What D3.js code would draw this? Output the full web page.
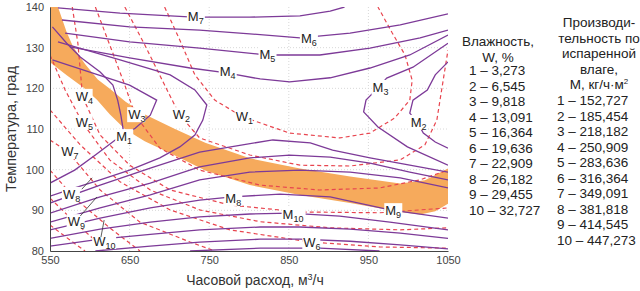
<!DOCTYPE html>
<html>
<head>
<meta charset="utf-8">
<script src="https://cdn.jsdelivr.net/npm/d3@7"></script>
<style>
  body { margin: 0; background: #fff; }
  text { font-family: "Liberation Sans", Arial, sans-serif; }
</style>
</head>
<body>
<svg id="chart" width="640" height="291"></svg>
<script>
// ---------------------------------------------------------------
// Data: contour lines as [flow m3/h, temperature] pairs

const xTicks = [550, 650, 750, 850, 950, 1050];
const yTicks = [80, 90, 100, 110, 120, 130, 140];

// orange band (upper edge then lower edge)
const bandUpper = [[550,140],[560,140],[571,133.8],[579,130.2],[594,126],[610,122.2],[626,119.8],
  [645,116.7],[670,113.5],[707,110],[745,106.6],[801,102.8],[864,100.3],[927,98.3],[990,96.6],
  [1021,97.4],[1050,100.3]];
const bandLower = [[550,126.4],[571,123.2],[592,120.2],[609,117.2],[625,113.6],[644,110],[669,107],
  [707,103.5],[745,99.8],[801,96.2],[864,93.8],[927,91.8],[990,89.6],[1015,89],[1034,89.8],[1050,91.6]];

// productivity contours M (solid purple)
const mLines = [
  // upper family
  [[560,139.8],[638,138.5],[730,137.5],[801,137.5],[864,137.8],[902,139],[920,140]],
  [[565,136.8],[650,135.1],[738,134.3],[801,133.4],[864,132.4],[927,133.6],[990,135.6],[1050,138.3]],
  [[569,133.6],[650,131.4],[738,129.9],[822,128.2],[889,128.2],[952,129.9],[1015,132.4],[1050,134.3]],
  [[575,130.2],[650,127.5],[726,125],[772,123.8],[814,122.3],[851,121.6],[902,122.6],[952,125],[1002,128.2],[1050,133.1]],
  // left family
  [[553,135.1],[571,131.1],[588,127.7],[613,124],[629,120.8],[635,117.1],[639,113.4],[642,109.8]],
  [[553,127],[600,124],[650,120.8],[684,117.1],[676,113.4],[657,110.2],[632,107.3],[607,103.6],[581,99.9],[550,96.7]],
  [[560,131.4],[638,127],[701,123.3],[732,119.6],[747,115.9],[742,112.2],[732,108.5],[713,105.6],[688,102.9],[650,99.9],[613,97.5],[581,95.5],[550,93.5]],
  // lower family
  [[550,91.8],[613,96.2],[676,100.4],[738,104.3],[792,106.1],[830,107.3],[877,106.6],[905,104.8],[952,102.9],[1002,101.1],[1050,99.4]],
  [[550,89.3],[613,93.3],[676,96.7],[738,100.7],[801,102.9],[851,103.6],[902,103.1],[952,101.6],[1002,99.4],[1050,97.5]],
  [[550,87.1],[613,90.6],[676,93.8],[738,97.5],[801,99.4],[864,99.9],[927,99.4],[990,98],[1050,95.5]],
  [[550,85.2],[613,88.1],[676,90.6],[738,92.5],[779,93.3],[839,94],[902,93.3],[977,90.1],[1050,88.1]],
  [[550,83.1],[613,85.4],[676,87.1],[738,88.4],[801,89.1],[851,89.3],[914,88.6],[977,87.1],[1050,85.2]],
  [[550,81.2],[613,82.9],[676,84.1],[738,85.2],[814,85.9],[864,85.9],[927,85.4],[990,84.4],[1050,83.1]],
  [[607,80],[676,81.2],[738,82.2],[814,82.9],[864,82.9],[927,82.4],[990,81.5],[1050,80.5]],
  [[726,80],[814,80.7],[889,80.7],[964,80]],
  // right family
  [[1050,131.1],[1006,125.2],[973,122.5],[962,120.1],[947,117.1],[944,114.2],[962,110.5],[999,105.6],[1050,101.1]],
  [[1050,126.5],[1034,123.3],[1024,119.6],[1006,117.1],[1002,113.9],[1012,111.5],[1019,109],[1034,106.8],[1050,105.3]]
];

// moisture contours W (dashed red)
const wLines = [
  [[694,140],[713,131.9],[732,123.3],[757,117.1],[792,113],[851,109],[914,107.8],[952,109],[983,112.7],[1002,117.1],[1005,122],[996,128.2],[980,133.6],[962,140]],
  [[644,140],[669,130.7],[694,120.8],[713,113.4],[738,107.8],[801,103.6],[864,101.1],[927,100.9],[990,102.4],[1021,106.1],[1036,112.2],[1042,119.6],[1050,129.4]],
  [[607,140],[625,130.7],[644,120.8],[657,113.4],[688,105.3],[738,99.9],[814,96.2],[889,95],[964,95.5],[1015,97.5],[1050,99.9]],
  [[578,140],[585,131.1],[591,117.9],[613,108.5],[650,101.1],[701,95],[776,91.3],[864,89.6],[964,89.4],[1050,90.6]],
  [[550,128.2],[569,119.6],[591,111.5],[625,102.4],[676,95],[738,90.1],[814,87.2],[902,85.7],[990,85.2],[1050,85.7]],
  [[550,114.7],[588,106.1],[638,97],[701,90.1],[776,85.2],[877,82.2],[964,81],[1050,80.7]],
  [[550,107.3],[573,104.3],[613,95],[663,87.1],[726,82.2],[757,80]],
  [[550,99.9],[581,93],[625,85.7],[663,80]],
  [[550,93],[581,87.1],[613,81.5],[619,80]],
  [[550,86.4],[575,82.7],[594,80]]
];

// short leader lines from labels to their contours
const leaders = [
  [[590,95.2],[603,98]],
  [[588,88.6],[609,93.3]],
  [[614,83.4],[618,87.6]]
];

// contour labels: letter, index, flow, temperature
const labels = [
  ["M","7",732,137.5],["M","6",874,132.1],["M","5",822,128.2],["M","4",772,124],
  ["M","3",964,120.1],["M","2",1012,111.5],["M","1",642,108],["M","8",779,92.8],
  ["M","10",851,88.9],["M","9",980,89.8],
  ["W","1",792,112.9],["W","2",713,113.4],["W","3",657,113.4],["W","4",591,117.9],
  ["W","5",591,111.5],["W","6",877,82],["W","7",573,104.3],["W","8",575,93.8],
  ["W","9",581,87.1],["W","10",613,82.2]
];

// legend texts
const wTitle = ["Влажность,", "W, %"];
const wLegend = ["1 – 3,273","2 – 6,545","3 – 9,818","4 – 13,091","5 – 16,364",
  "6 – 19,636","7 – 22,909","8 – 26,182","9 – 29,455","10 – 32,727"];
const mTitle = ["Производи-", "тельность по", "испаренной", "влаге,"];
const mLegend = ["1 – 152,727","2 – 185,454","3 – 218,182","4 – 250,909","5 – 283,636",
  "6 – 316,364","7 – 349,091","8 – 381,818","9 – 414,545","10 – 447,273"];

// ---------------------------------------------------------------
const svg = d3.select("#chart");
const pL = 50, pR = 448, pT = 7, pB = 251;

const x = d3.scaleLinear().domain([550, 1050]).range([pL, pR]);
const y = d3.scaleLinear().domain([80, 140]).range([pB, pT]);

svg.append("clipPath").attr("id", "plotclip")
  .append("rect").attr("x", pL).attr("y", pT)
  .attr("width", pR - pL).attr("height", pB - pT);

// grid
const grid = svg.append("g");
grid.selectAll(".vg").data(xTicks.slice(1, -1)).join("line")
  .attr("x1", d => x(d)).attr("x2", d => x(d))
  .attr("y1", pT).attr("y2", pB)
  .attr("stroke", "#d8d8d8").attr("stroke-dasharray", "1,2");
grid.selectAll(".hg").data(yTicks.slice(1, -1)).join("line")
  .attr("y1", d => y(d)).attr("y2", d => y(d))
  .attr("x1", pL).attr("x2", pR)
  .attr("stroke", "#d8d8d8").attr("stroke-dasharray", "1,2");

const plot = svg.append("g").attr("clip-path", "url(#plotclip)");

const line = d3.line().x(d => x(d[0])).y(d => y(d[1]));

// band
plot.append("path")
  .datum(bandUpper.concat(bandLower.slice().reverse()))
  .attr("d", line)
  .attr("fill", "#f6aa5c");

plot.selectAll(".w").data(wLines).join("path")
  .attr("d", line).attr("fill", "none")
  .attr("stroke", "#e8454f").attr("stroke-width", 1.2)
  .attr("stroke-dasharray", "4,3");

plot.selectAll(".m").data(mLines).join("path")
  .attr("d", line).attr("fill", "none")
  .attr("stroke", "#7d3a98").attr("stroke-width", 1.3);

// contour labels
const lab = svg.append("g").selectAll("g").data(labels).join("g")
  .attr("transform", d => `translate(${x(d[2])},${y(d[3])})`);
lab.append("rect")
  .attr("x", -8).attr("y", -8)
  .attr("width", d => d[1].length > 1 ? 24 : 18).attr("height", 15)
  .attr("fill", "#fff");
const lt = lab.append("text").attr("x", -7).attr("y", 4)
  .attr("font-size", 13).attr("fill", "#222");
lt.append("tspan").text(d => d[0]);
lt.append("tspan").attr("dy", 3).attr("font-size", 9).text(d => d[1]);

svg.append("g").selectAll("path").data(leaders).join("path")
  .attr("d", line).attr("stroke", "#333").attr("stroke-width", 0.8).attr("fill", "none");

// axes
const xAxis = svg.append("g").attr("transform", `translate(0,${pB})`)
  .call(d3.axisBottom(x).tickValues(xTicks).tickFormat(d3.format("d")).tickSize(0).tickPadding(5));
const yAxis = svg.append("g").attr("transform", `translate(${pL},0)`)
  .call(d3.axisLeft(y).tickValues(yTicks).tickFormat(d3.format("d")).tickSize(0).tickPadding(6));
[xAxis, yAxis].forEach(a => {
  a.select(".domain").attr("stroke", "#444");
  a.selectAll("text").attr("font-size", 11).attr("fill", "#444")
    .attr("font-family", "Liberation Sans, Arial, sans-serif");
});

svg.append("text").attr("x", 255).attr("y", 285).attr("text-anchor", "middle")
  .attr("font-size", 14).attr("fill", "#333")
  .html("Часовой расход, м<tspan dy='-5' font-size='9'>3</tspan><tspan dy='5'>/ч</tspan>");
svg.append("text").attr("transform", "translate(16,129) rotate(-90)")
  .attr("text-anchor", "middle").attr("font-size", 14.5).attr("fill", "#333")
  .text("Температура, град");

// legends
const legW = svg.append("g").attr("font-size", 13.5).attr("fill", "#222");
legW.selectAll(".t").data(wTitle).join("text")
  .attr("x", 498).attr("y", (d, i) => 46 + i * 15.5).attr("text-anchor", "middle").text(d => d);
legW.selectAll(".v").data(wLegend).join("text")
  .attr("x", 469).attr("y", (d, i) => 75 + i * 15.5).text(d => d);

const legM = svg.append("g").attr("font-size", 13.5).attr("fill", "#222");
legM.selectAll(".t").data(mTitle).join("text")
  .attr("x", 599).attr("y", (d, i) => 27 + i * 15.5).attr("text-anchor", "middle").text(d => d);
legM.append("text").attr("x", 599).attr("y", 89).attr("text-anchor", "middle")
  .html("М, кг/ч·м<tspan dy='-5' font-size='8'>2</tspan>");
legM.selectAll(".v").data(mLegend).join("text")
  .attr("x", 557).attr("y", (d, i) => 105 + i * 15.5).text(d => d);
</script>
</body>
</html>
